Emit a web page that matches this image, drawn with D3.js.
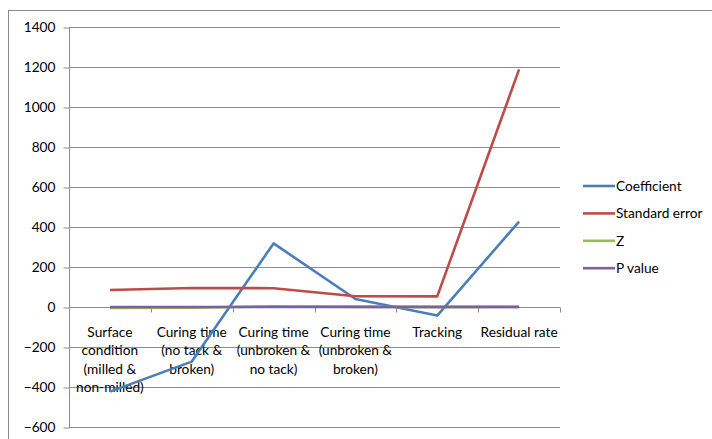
<!DOCTYPE html>
<html>
<head>
<meta charset="utf-8">
<script src="https://cdn.jsdelivr.net/npm/d3@7"></script>
<style>
  html, body { margin: 0; padding: 0; background: #fff; }
  svg { display: block; }
  text { font-family: Lato, "Noto Sans", sans-serif; fill: #000; }
</style>
</head>
<body>
<svg id="chart" width="712" height="439"></svg>
<script>
// Category labels, each split into the lines shown under the axis
const categories = [
  "Surface condition (milled & non-milled)",
  "Curing time (no tack & broken)",
  "Curing time (unbroken & no tack)",
  "Curing time (unbroken & broken)",
  "Tracking",
  "Residual rate"
];
const categoryLines = [
  ["Surface", "condition", "(milled &", "non-milled)"],
  ["Curing time", "(no tack &", "broken)"],
  ["Curing time", "(unbroken &", "no tack)"],
  ["Curing time", "(unbroken &", "broken)"],
  ["Tracking"],
  ["Residual rate"]
];

// Series values
const coefficient   = [-423, -273, 318, 40, -43, 427];
const standardError = [85, 95, 94, 54, 53, 1188];
const zValues       = [-5.0, -2.9, 3.4, 0.7, -0.8, 0.36];
const pValues       = [0.00, 0.00, 0.00, 0.48, 0.42, 0.72];

const seriesNames  = ["Coefficient", "Standard error", "Z", "P value"];
const seriesColors = ["#4A7EBB", "#BE4B48", "#98B954", "#7D60A0"];
const seriesValues = [coefficient, standardError, zValues, pValues];

const yTicks = [-600, -400, -200, 0, 200, 400, 600, 800, 1000, 1200, 1400];

const fontSize = 13.7;
const svg = d3.select("#chart");

// Outer chart frame
svg.append("rect")
  .attr("x", 8.5).attr("y", 10.5)
  .attr("width", 720).attr("height", 440)
  .attr("fill", "none").attr("stroke", "#888").attr("stroke-width", 1);

const plot = { left: 69, right: 560, top: 27, bottom: 427 };

const x = d3.scaleBand().domain(categories).range([plot.left, plot.right]).padding(0);
const y = d3.scaleLinear().domain([-600, 1400]).range([plot.bottom, plot.top]);

// Horizontal gridlines
svg.append("g")
  .selectAll("line")
  .data(yTicks)
  .join("line")
  .attr("x1", plot.left).attr("x2", plot.right)
  .attr("y1", d => Math.round(y(d)) + 0.5).attr("y2", d => Math.round(y(d)) + 0.5)
  .attr("stroke", "#8c8c8c").attr("stroke-width", 1);

// Value axis
const yAxis = svg.append("g")
  .attr("transform", `translate(${plot.left + 0.5},0.5)`)
  .call(d3.axisLeft(y).tickValues(yTicks).tickSize(6).tickPadding(8).tickFormat(d3.format("d")));
yAxis.select(".domain").attr("stroke", "#8c8c8c").attr("d", `M0,${plot.top}V${plot.bottom}`);
yAxis.selectAll(".tick line").attr("stroke", "#8c8c8c");
yAxis.selectAll(".tick text").attr("font-size", fontSize).attr("fill", "#000")
  .style("font-family", "Lato, 'Noto Sans', sans-serif");

// Category axis on the zero line
const y0 = Math.round(y(0)) + 0.5;
const xBounds = categories.map(c => x(c)).concat([plot.right]);
svg.append("g")
  .selectAll("line")
  .data(xBounds)
  .join("line")
  .attr("x1", d => Math.round(d) + 0.5).attr("x2", d => Math.round(d) + 0.5)
  .attr("y1", y0).attr("y2", y0 + 5)
  .attr("stroke", "#8c8c8c");

const labels = svg.append("g")
  .selectAll("text")
  .data(categories)
  .join("text")
  .attr("text-anchor", "middle")
  .attr("font-size", fontSize)
  .attr("x", d => x(d) + x.bandwidth() / 2)
  .attr("y", 337);
labels.selectAll("tspan")
  .data((d, i) => categoryLines[i])
  .join("tspan")
  .attr("x", function () { return this.parentNode.getAttribute("x"); })
  .attr("dy", (d, i) => i === 0 ? 0 : 18.3)
  .text(d => d);

// Series lines
const line = d3.line()
  .x((d, i) => x(categories[i]) + x.bandwidth() / 2)
  .y(d => y(d));

svg.append("g")
  .selectAll("path")
  .data(seriesValues)
  .join("path")
  .attr("d", d => line(d))
  .attr("fill", "none")
  .attr("stroke", (d, i) => seriesColors[i])
  .attr("stroke-width", 2.6)
  .attr("stroke-linejoin", "round");

// Legend
const legend = svg.append("g")
  .selectAll("g")
  .data(seriesNames)
  .join("g")
  .attr("transform", (d, i) => `translate(583,${186 + i * 27.4})`);
legend.append("line")
  .attr("x1", 0).attr("x2", 32)
  .attr("stroke", (d, i) => seriesColors[i])
  .attr("stroke-width", 2.6);
legend.append("text")
  .attr("x", 33).attr("dy", "0.35em")
  .attr("font-size", fontSize)
  .text(d => d);
</script>
</body>
</html>
